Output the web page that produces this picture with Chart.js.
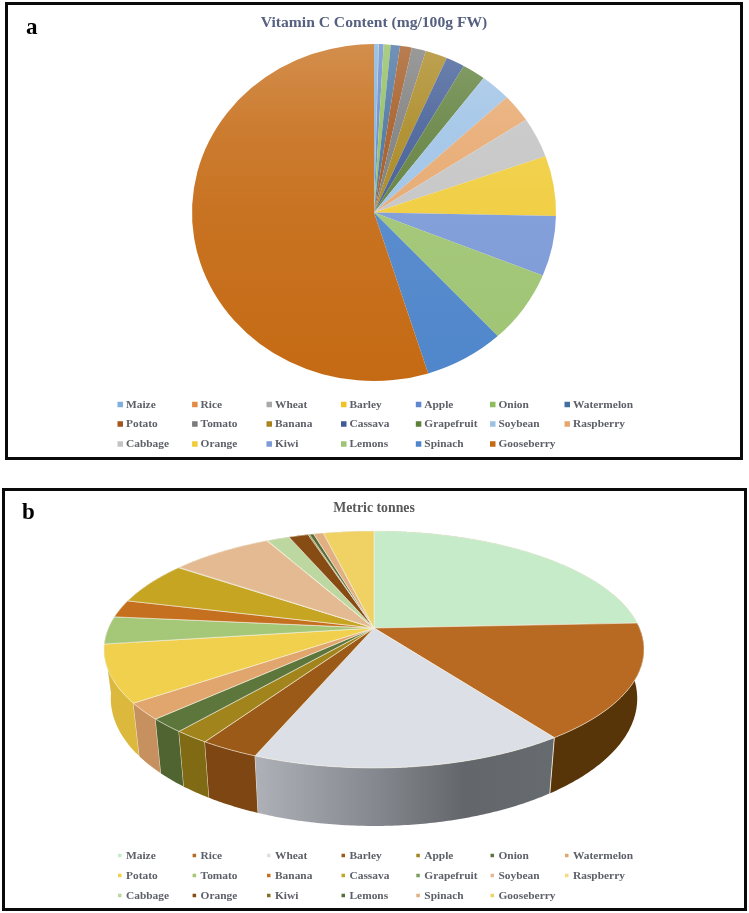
<!DOCTYPE html>
<html><head><meta charset="utf-8">
<script src="https://cdn.jsdelivr.net/npm/chart.js@4"></script>
<style>
html,body{margin:0;padding:0;background:#fff;width:749px;height:913px;overflow:hidden}
.frame{position:absolute;box-sizing:border-box;border:3px solid #0a0a0a}
canvas{position:absolute;left:0;top:0}
#wrap{position:absolute;left:0;top:0;width:749px;height:913px;filter:blur(.35px)}
</style></head><body>
<div id="wrap">
<div class="frame" style="left:5px;top:2px;width:738px;height:458px"></div>
<div class="frame" style="left:2px;top:488px;width:745px;height:423px"></div>
<div style="position:absolute;left:0;top:0;width:749px;height:470px"><canvas id="ca" width="749" height="470"></canvas></div>
<div style="position:absolute;left:0;top:480px;width:749px;height:428px"><canvas id="cb" width="749" height="428"></canvas></div>
</div>
<script>
const categories=["Maize","Rice","Wheat","Barley","Apple","Onion","Watermelon","Potato","Tomato","Banana","Cassava","Grapefruit","Soybean","Raspberry","Cabbage","Orange","Kiwi","Lemons","Spinach","Gooseberry"];
const vitaminC=[4.2,0.15,0.15,0.15,4.6,6.8,9.1,11.5,13.7,21.3,18.2,22.8,29.8,29.8,42,63,63.2,76.6,77.5,600];
const metricTonnes=[24.3,15.86,15.9,3.0,1.8,1.9,2.25,7.8,3.75,2.4,5.9,0.06,7.3,0.05,1.6,1.4,0.1,0.3,0.7,3.6];
const colorsA=["#7fb0dd","#e38a45","#a9a9a9","#f2c320","#5f87cf","#8fbd5c","#44709f","#a2551c","#7a7a7a","#a8851c","#3f5a94","#5f7f3a","#9dc2e6","#e7a86e","#c4c4c4","#f0cc3a","#7c9ad8","#9fc473","#4f86cb","#c56a14"];
const colorsB=["#c6ebc8","#b86a22","#dcdfe6","#9b5a18","#a1841c","#5d763c","#e1a56e","#f1d04d","#a5c878","#c4701f","#c6a523","#78a05a","#e4ba92","#f5dc82","#bcd7a0","#874b14","#82701e","#556e3c","#e1af82","#f0d264"];
const wallsB=["#8aa88c","#583409",null,"#7d4612","#806a14","#506432","#c6915f","#dcb93c","#8fb066","#9e5a18","#a08620","#608048","#c09a76","#d0bb6a","#9ab886","#6a3a10","#6a5a18","#445830","#c09268","#d0b658"];
const legendColumns=[126,200.6,275,349.5,424.3,498.5,573];

function mix(hex,t){const n=parseInt(hex.slice(1),16);const c=[n>>16,(n>>8)&255,n&255].map(v=>Math.round(v+(255-v)*t));return `rgb(${c[0]},${c[1]},${c[2]})`;}

function gridLegend(o){return {id:'gridLegend',afterDraw(chart){
  const ctx=chart.ctx;ctx.save();ctx.textBaseline='middle';ctx.textAlign='left';
  ctx.font='bold 11.4px "Liberation Serif"';
  categories.forEach((name,i)=>{
    const col=i%7,row=Math.floor(i/7);
    const x=legendColumns[col],y=o.rows[row];
    ctx.fillStyle=o.colors[i];
    ctx.fillRect(x-o.gap,y-o.size/2,o.size,o.size);
    ctx.fillStyle='#5d6068';
    ctx.fillText(name,x,y+.5);
  });
  ctx.font='bold 23px "Liberation Serif"';ctx.fillStyle='#000';
  ctx.fillText(o.letter,o.lx,o.ly);
  ctx.restore();
}};}

const squash={id:'squash',
  beforeDatasetsDraw(chart){const a=chart.getDatasetMeta(0).data[0];const c=chart.ctx;c.save();c.translate(a.x,a.y);c.scale(1,.926);c.translate(-a.x,-a.y);},
  afterDatasetsDraw(chart){chart.ctx.restore();}};

new Chart(document.getElementById('ca'),{type:'pie',
  data:{labels:categories,datasets:[{data:vitaminC,borderWidth:0,radius:182,
    backgroundColor(c){const area=c.chart.chartArea;const base=colorsA[c.dataIndex];if(!area)return base;
      const g=c.chart.ctx.createLinearGradient(0,area.top,0,area.bottom);
      g.addColorStop(0,mix(base,.24));g.addColorStop(.25,mix(base,.12));g.addColorStop(.5,mix(base,.06));g.addColorStop(1,base);return g;}}]},
  options:{responsive:false,animation:false,
    layout:{padding:{top:14,left:0,right:1,bottom:76.5}},
    plugins:{legend:{display:false},tooltip:{enabled:false},
      title:{display:true,text:'Vitamin C Content (mg/100g FW)',color:'#566080',font:{family:'"Liberation Serif"',size:15.6,weight:'bold'},padding:{top:0,bottom:-1.2}}}},
  plugins:[squash,gridLegend({colors:colorsA,rows:[404.5,424,444],size:5.5,gap:8.5,letter:'a',lx:26,ly:28})]
});

/* perspective projection of the pie's flat circle */
const P=.181,A=114.6,DEPTH=47.5,FLOOR=.975;
function project(el,ang,drop){const u=Math.cos(ang),v=Math.sin(ang),w=1-P*v;
  return [el.x+el.outerRadius*u/w*(drop?FLOOR:1), el.y+A*v/w+(drop||0)/w];}
function wedgePoints(el,drop){const pts=[];const n=Math.max(2,Math.ceil((el.endAngle-el.startAngle)/.01));
  for(let i=0;i<=n;i++)pts.push(project(el,el.startAngle+(el.endAngle-el.startAngle)*i/n,drop));return pts;}

const perspective={id:'perspective',beforeDatasetsDraw(chart){
  const c=chart.ctx,els=chart.getDatasetMeta(0).data;
  c.save();c.lineJoin='round';
  const order=els.map((e,i)=>i).sort((a,b)=>Math.sin((els[a].startAngle+els[a].endAngle)/2)-Math.sin((els[b].startAngle+els[b].endAngle)/2));
  order.forEach(i=>{const el=els[i];
    const top=wedgePoints(el,0),bot=wedgePoints(el,DEPTH).reverse();
    c.beginPath();top.concat(bot).forEach((p,k)=>k?c.lineTo(p[0],p[1]):c.moveTo(p[0],p[1]));c.closePath();
    let fill=wallsB[i];
    if(!fill){const g=c.createLinearGradient(top[0][0],0,top[top.length-1][0],0);
      g.addColorStop(0,'#666b70');g.addColorStop(.3,'#63676b');g.addColorStop(.6,'#85888e');g.addColorStop(1,'#aeb1b8');fill=g;}
    c.fillStyle=fill;c.fill();
    if(Math.sin(el.startAngle)>-.05){const a=project(el,el.startAngle,0),b=project(el,el.startAngle,DEPTH);
      c.strokeStyle='rgba(245,240,225,.85)';c.lineWidth=1;c.beginPath();c.moveTo(a[0],a[1]);c.lineTo(b[0],b[1]);c.stroke();}
  });
  els.forEach((el,i)=>{const pts=wedgePoints(el,0);
    c.beginPath();c.moveTo(el.x,el.y);pts.forEach(p=>c.lineTo(p[0],p[1]));c.closePath();
    c.fillStyle=colorsB[i];c.fill();
    c.strokeStyle='rgba(245,240,225,.75)';c.lineWidth=.8;c.stroke();
  });
  c.restore();
  return false;
}};

new Chart(document.getElementById('cb'),{type:'pie',
  data:{labels:categories,datasets:[{data:metricTonnes,backgroundColor:colorsB,borderWidth:0,radius:265.5}]},
  options:{responsive:false,animation:false,
    layout:{padding:{top:20,left:0,right:1,bottom:168.5}},
    plugins:{legend:{display:false},tooltip:{enabled:false},
      title:{display:true,text:'Metric tonnes',color:'#595959',font:{family:'"Liberation Serif"',size:13.8,weight:'bold'},padding:{top:0,bottom:0}}}},
  plugins:[perspective,gridLegend({colors:colorsB,rows:[375.5,395.5,415.5],size:3.5,gap:8,letter:'b',lx:22,ly:33.5})]
});
</script>
</body></html>
